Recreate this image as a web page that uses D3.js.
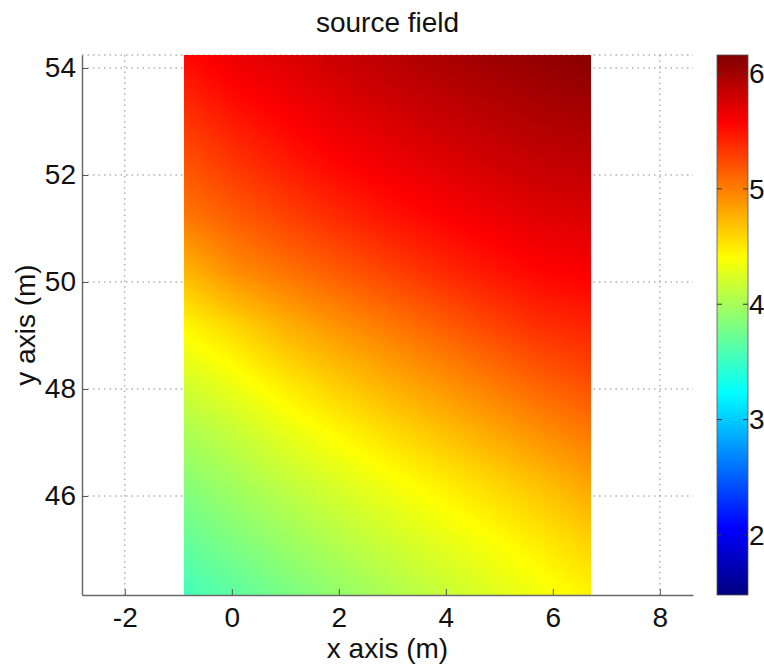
<!DOCTYPE html>
<html>
<head>
<meta charset="utf-8">
<script src="https://cdn.jsdelivr.net/npm/d3@7"></script>
<style>
  body { margin: 0; background: #fff; }
  text { font-family: "Liberation Sans", Arial, Helvetica, sans-serif; fill: #111; }
</style>
</head>
<body>
<svg id="chart" width="764" height="670"></svg>
<script>
// ---- chart data ----
const title = "source field";
const xLabel = "x axis (m)";
const yLabel = "y axis (m)";
const xTicks = [-2, 0, 2, 4, 6, 8];
const yTicks = [46, 48, 50, 52, 54];
const cbTicks = [2, 3, 4, 5, 6];
const xDomain = [-2.8, 8.62];
const yDomain = [44.15, 54.243];
const colorDomain = [1.48, 6.16];

// extent of the sampled field (m)
const fieldXExtent = [-0.896, 6.72];
const fieldYExtent = [44.15, 54.243];

// sample positions of the field
const gridX = [-0.9, 0.05, 1.0, 1.95, 2.9, 3.85, 4.8, 5.75, 6.7];
const gridY = [54.2, 53.2, 52.2, 51.2, 50.2, 49.2, 48.2, 47.2, 46.2, 45.2, 44.2];

// source field values, one row per gridY entry (top row first)
const field = [
  [5.53, 5.66, 5.73, 5.81, 5.89, 5.96, 6.02, 6.07, 6.11],
  [5.36, 5.50, 5.60, 5.70, 5.77, 5.84, 5.90, 5.96, 5.99],
  [5.19, 5.33, 5.45, 5.56, 5.64, 5.71, 5.78, 5.84, 5.87],
  [5.02, 5.15, 5.27, 5.38, 5.48, 5.57, 5.64, 5.71, 5.74],
  [4.74, 4.93, 5.05, 5.16, 5.27, 5.38, 5.48, 5.56, 5.60],
  [4.44, 4.60, 4.77, 4.90, 5.02, 5.14, 5.26, 5.37, 5.42],
  [4.22, 4.36, 4.52, 4.66, 4.79, 4.91, 5.03, 5.15, 5.24],
  [4.02, 4.15, 4.30, 4.43, 4.56, 4.68, 4.80, 4.92, 5.03],
  [3.85, 3.98, 4.11, 4.23, 4.35, 4.46, 4.57, 4.69, 4.82],
  [3.70, 3.83, 3.95, 4.07, 4.18, 4.29, 4.39, 4.50, 4.62],
  [3.55, 3.67, 3.79, 3.91, 4.03, 4.14, 4.25, 4.35, 4.46]
];

// ---- layout ----
const plot = { left: 82, right: 693, top: 55, bottom: 595 };
const cbar = { left: 717, right: 748 };
const fontSize = 28;
const shadeStep = 3; // px size of the interpolated shading tiles

const svg = d3.select("#chart");

const x = d3.scaleLinear().domain(xDomain).range([plot.left, plot.right]);
const y = d3.scaleLinear().domain(yDomain).range([plot.bottom, plot.top]);

// MATLAB-style jet colormap
const jet = t => {
  const c = v => Math.round(255 * Math.max(0, Math.min(1, 1.5 - Math.abs(v))));
  return `rgb(${c(4 * t - 3)},${c(4 * t - 2)},${c(4 * t - 1)})`;
};
const color = d3.scaleSequential(jet).domain(colorDomain).clamp(true);

// ---- grid (drawn beneath the field) ----
const gridG = svg.append("g")
  .attr("stroke", "#8a8a8a")
  .attr("stroke-width", 1)
  .attr("stroke-dasharray", "1.5,4");
gridG.selectAll("line.gx").data(xTicks).join("line")
  .attr("x1", d => x(d)).attr("x2", d => x(d))
  .attr("y1", plot.top).attr("y2", plot.bottom);
gridG.selectAll("line.gy").data(yTicks).join("line")
  .attr("x1", plot.left).attr("x2", plot.right)
  .attr("y1", d => y(d)).attr("y2", d => y(d));
gridG.append("line")
  .attr("x1", plot.left).attr("x2", plot.right)
  .attr("y1", plot.top).attr("y2", plot.top);

// ---- field image with interpolated shading between samples ----
const ix = d3.scaleLinear().domain(gridX).range(d3.range(gridX.length)).clamp(true);
const iy = d3.scaleLinear().domain(gridY).range(d3.range(gridY.length)).clamp(true);
function fieldAt(xv, yv) {
  const fi = ix(xv), fj = iy(yv);
  const i0 = Math.min(Math.floor(fi), gridX.length - 2);
  const j0 = Math.min(Math.floor(fj), gridY.length - 2);
  const tx = fi - i0, ty = fj - j0;
  const top = d3.interpolateNumber(field[j0][i0], field[j0][i0 + 1])(tx);
  const bot = d3.interpolateNumber(field[j0 + 1][i0], field[j0 + 1][i0 + 1])(tx);
  return d3.interpolateNumber(top, bot)(ty);
}

const fx0 = Math.round(x(fieldXExtent[0])), fx1 = Math.round(x(fieldXExtent[1]));
const fy0 = Math.round(y(fieldYExtent[1])), fy1 = Math.round(y(fieldYExtent[0]));
const tiles = [];
for (let py = fy0; py < fy1; py += shadeStep) {
  for (let px = fx0; px < fx1; px += shadeStep) {
    const w = Math.min(shadeStep, fx1 - px), h = Math.min(shadeStep, fy1 - py);
    tiles.push({ px, py, w, h, v: fieldAt(x.invert(px + w / 2), y.invert(py + h / 2)) });
  }
}
svg.append("g").attr("shape-rendering", "crispEdges")
  .selectAll("rect").data(tiles).join("rect")
  .attr("x", d => d.px).attr("y", d => d.py)
  .attr("width", d => d.w).attr("height", d => d.h)
  .attr("fill", d => color(d.v));

// ---- axes ----
const xAxis = d3.axisBottom(x).tickValues(xTicks).tickSizeInner(-6).tickSizeOuter(0).tickPadding(12)
  .tickFormat(d3.format("d"));
const yAxis = d3.axisLeft(y).tickValues(yTicks).tickSizeInner(-6).tickSizeOuter(0).tickPadding(6)
  .tickFormat(d3.format("d"));

const gx = svg.append("g").attr("transform", `translate(0,${plot.bottom})`).call(xAxis);
const gy = svg.append("g").attr("transform", `translate(${plot.left},0)`).call(yAxis);
[gx, gy].forEach(g => {
  g.attr("font-family", null).attr("font-size", null);
  g.select(".domain").attr("stroke", "#6a6a6a").attr("stroke-width", 1.5);
  g.selectAll(".tick line").attr("stroke", "#555");
  g.selectAll(".tick text")
    .attr("fill", "#111")
    .style("font-size", fontSize + "px");
});
gx.selectAll(".tick text").text(d => d < 0 ? "-" + Math.abs(d) : d);

// ---- titles ----
svg.append("text")
  .attr("x", (plot.left + plot.right) / 2).attr("y", 32)
  .attr("text-anchor", "middle").style("font-size", fontSize + "px")
  .text(title);
svg.append("text")
  .attr("x", (plot.left + plot.right) / 2).attr("y", 658)
  .attr("text-anchor", "middle").style("font-size", fontSize + "px")
  .text(xLabel);
svg.append("text")
  .attr("transform", `translate(35,${(plot.top + plot.bottom) / 2}) rotate(-90)`)
  .attr("text-anchor", "middle").style("font-size", fontSize + "px")
  .text(yLabel);

// ---- colorbar ----
const defs = svg.append("defs");
const cb = d3.scaleLinear().domain(colorDomain).range([plot.bottom, plot.top]);
const grad = defs.append("linearGradient").attr("id", "cbGrad")
  .attr("x1", 0).attr("y1", 1).attr("x2", 0).attr("y2", 0);
grad.selectAll("stop").data(d3.range(0, 1.0001, 1 / 64)).join("stop")
  .attr("offset", d => d)
  .attr("stop-color", d => color(colorDomain[0] + d * (colorDomain[1] - colorDomain[0])));
const cbG = svg.append("g");
cbG.append("rect")
  .attr("x", cbar.left).attr("y", plot.top)
  .attr("width", cbar.right - cbar.left).attr("height", plot.bottom - plot.top)
  .attr("fill", "url(#cbGrad)").attr("stroke", "#555").attr("stroke-width", 0.8);
const cbTickG = cbG.selectAll("g.cbtick").data(cbTicks).join("g")
  .attr("transform", d => `translate(0,${cb(d)})`);
cbTickG.append("line")
  .attr("x1", cbar.left).attr("x2", cbar.left + 5)
  .attr("stroke", "#333").attr("stroke-width", 1);
cbTickG.append("line")
  .attr("x1", cbar.right - 5).attr("x2", cbar.right)
  .attr("stroke", "#333").attr("stroke-width", 1);
cbTickG.append("text")
  .attr("x", cbar.right + 1).attr("dy", "0.35em")
  .style("font-size", fontSize + "px")
  .text(d => d);
</script>
</body>
</html>
